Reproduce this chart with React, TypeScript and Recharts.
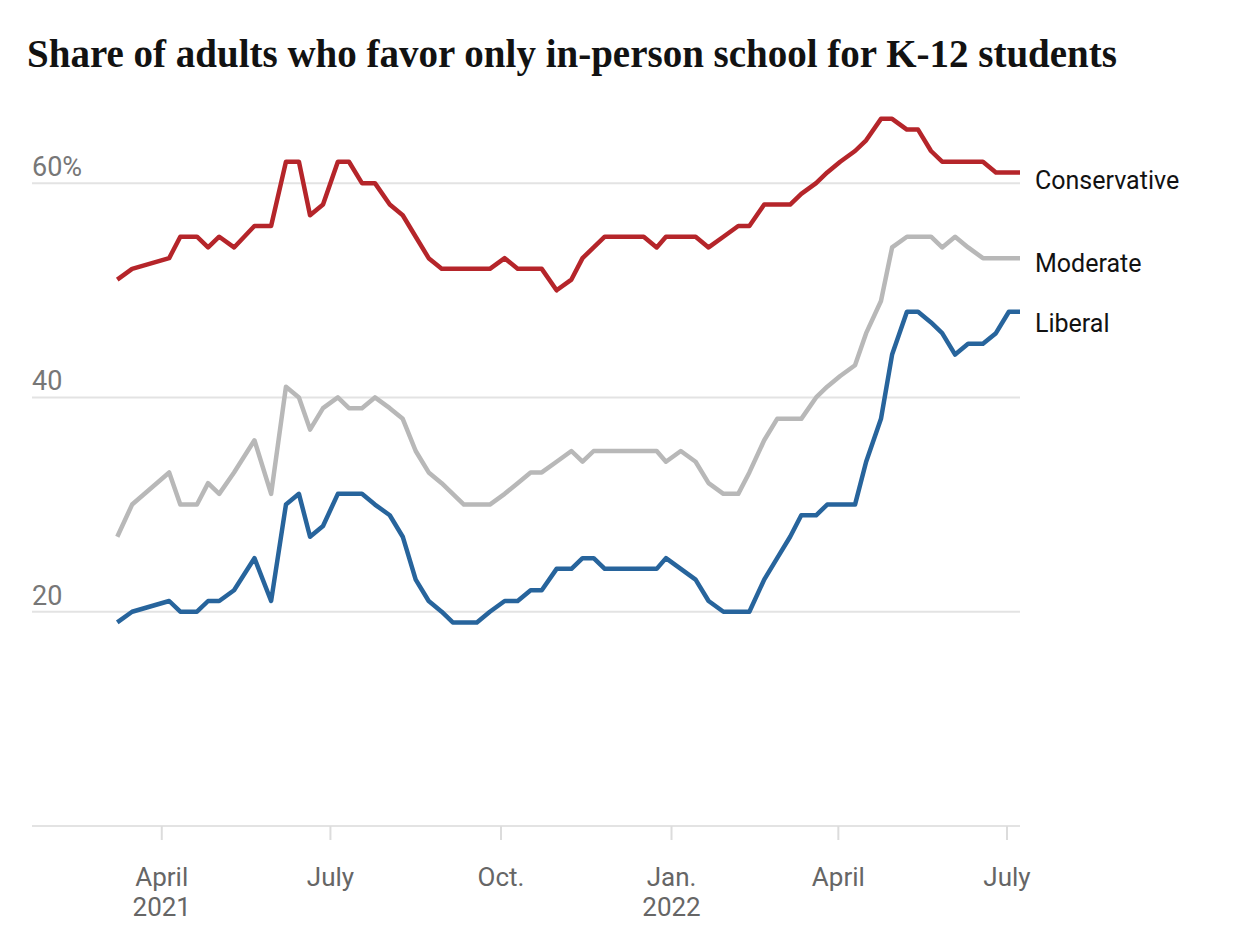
import React from "react";
import {
  LineChart, Line, XAxis, YAxis, ReferenceLine, LabelList,
} from "recharts";

// weekly-ish survey readings
const DATES = [
  "2021-03-08", "2021-03-16", "2021-04-05", "2021-04-11", "2021-04-20", "2021-04-26",
  "2021-05-02", "2021-05-10", "2021-05-21", "2021-05-30", "2021-06-07", "2021-06-14",
  "2021-06-20", "2021-06-27", "2021-07-05", "2021-07-11", "2021-07-18", "2021-07-25",
  "2021-08-02", "2021-08-09", "2021-08-16", "2021-08-23", "2021-08-30", "2021-09-05",
  "2021-09-11", "2021-09-18", "2021-09-25", "2021-10-03", "2021-10-10", "2021-10-17",
  "2021-10-23", "2021-10-31", "2021-11-08", "2021-11-14", "2021-11-20", "2021-11-26",
  "2021-12-03", "2021-12-10", "2021-12-17", "2021-12-24", "2021-12-29", "2022-01-06",
  "2022-01-14", "2022-01-21", "2022-01-29", "2022-02-06", "2022-02-12", "2022-02-20",
  "2022-02-27", "2022-03-06", "2022-03-12", "2022-03-20", "2022-03-26", "2022-04-02",
  "2022-04-10", "2022-04-16", "2022-04-24", "2022-04-30", "2022-05-08", "2022-05-14",
  "2022-05-21", "2022-05-27", "2022-06-03", "2022-06-10", "2022-06-18", "2022-06-25",
  "2022-07-02", "2022-07-08",
];

const CONSERVATIVE = [
  51, 52, 53, 55, 55, 54, 55, 54, 56, 56, 62, 62,
  57, 58, 62, 62, 60, 60, 58, 57, 55, 53, 52, 52,
  52, 52, 52, 53, 52, 52, 52, 50, 51, 53, 54, 55,
  55, 55, 55, 54, 55, 55, 55, 54, 55, 56, 56, 58,
  58, 58, 59, 60, 61, 62, 63, 64, 66, 66, 65, 65,
  63, 62, 62, 62, 62, 61, 61, 61,
];

const MODERATE = [
  27, 30, 33, 30, 30, 32, 31, 33, 36, 31, 41, 40,
  37, 39, 40, 39, 39, 40, 39, 38, 35, 33, 32, 31,
  30, 30, 30, 31, 32, 33, 33, 34, 35, 34, 35, 35,
  35, 35, 35, 35, 34, 35, 34, 32, 31, 31, 33, 36,
  38, 38, 38, 40, 41, 42, 43, 46, 49, 54, 55, 55,
  55, 54, 55, 54, 53, 53, 53, 53,
];

const LIBERAL = [
  19, 20, 21, 20, 20, 21, 21, 22, 25, 21, 30, 31,
  27, 28, 31, 31, 31, 30, 29, 27, 23, 21, 20, 19,
  19, 19, 20, 21, 21, 22, 22, 24, 24, 25, 25, 24,
  24, 24, 24, 24, 25, 24, 23, 21, 20, 20, 20, 23,
  25, 27, 29, 29, 30, 30, 30, 34, 38, 44, 48, 48,
  47, 46, 44, 45, 45, 46, 48, 48,
];

const X_DOMAIN_START = "2021-01-21";
const X_TICKS = ["2021-04-01", "2021-07-01", "2021-10-01", "2022-01-01", "2022-04-01", "2022-07-01"];
const X_TICK_LABELS = [["April", "2021"], ["July"], ["Oct."], ["Jan.", "2022"], ["April"], ["July"]];

const Y_TICKS = [0, 20, 40, 60];
const Y_TICK_LABELS = ["", "20", "40", "60%"];

const RED = "#b5252a";
const GRAY = "#b8b8b8";
const BLUE = "#27649c";
const SANS = "Roboto, 'Liberation Sans', sans-serif";

const ts = (d: string) => new Date(d + "T00:00:00Z").getTime();

const data = DATES.map((d, i) => ({
  date: ts(d),
  conservative: CONSERVATIVE[i],
  moderate: MODERATE[i],
  liberal: LIBERAL[i],
}));

const xTicks = X_TICKS.map(ts);

function XTick({ x, y, payload }: any) {
  const idx = xTicks.indexOf(payload.value);
  const lines = X_TICK_LABELS[idx] || [];
  return (
    <g>
      {lines.map((t, i) => (
        <text key={i} x={x} y={y + 46 + i * 30} textAnchor="middle"
          fill="#666" fontSize={26} fontFamily={SANS}>
          {t}
        </text>
      ))}
    </g>
  );
}

const gridLabel = (text: string) => (props: any) => {
  const vb = props.viewBox || {};
  if (!text) return null;
  return (
    <text x={vb.x} y={vb.y - 7} textAnchor="start" fill="#777" fontSize={27} fontFamily={SANS}>
      {text}
    </text>
  );
};

const endLabel = (name: string, dy: number) => (props: any) => {
  const { x, y, index } = props;
  if (index !== data.length - 1) return null;
  return (
    <text x={x + 15} y={y + dy} dominantBaseline="central" fill="#121212"
      fontSize={25} fontFamily={SANS}>
      {name}
    </text>
  );
};

export default function App() {
  return (
    <div style={{ position: "absolute", left: 0, top: 0, width: 1234, height: 950, background: "#fff" }}>
      <div
        style={{
          position: "absolute", left: 27, top: 34, lineHeight: 1,
          fontFamily: "'Liberation Serif', 'DejaVu Serif', serif",
          fontWeight: 700, fontSize: 39, color: "#121212", whiteSpace: "nowrap",
        }}
      >
        Share of adults who favor only in-person school for K-12 students
      </div>
      <div style={{ position: "absolute", left: 0, top: 0 }}>
        <LineChart width={1234} height={950} data={data}
          margin={{ top: 76, right: 214, bottom: 24, left: 32 }}>
          <XAxis
            dataKey="date" type="number" scale="linear"
            domain={[ts(X_DOMAIN_START), ts(DATES[DATES.length - 1])]}
            allowDataOverflow ticks={xTicks} interval={0}
            height={100} axisLine={false}
            tickLine={{ stroke: "#dcdcdc", strokeWidth: 2 }} tickSize={14} tickMargin={0}
            tick={<XTick />}
          />
          <YAxis type="number" domain={[0, 70]} hide />
          {Y_TICKS.map((v, i) => (
            <ReferenceLine key={v} y={v} stroke="#e3e3e3" strokeWidth={2}
              label={{ content: gridLabel(Y_TICK_LABELS[i]) }} />
          ))}
          <Line dataKey="moderate" stroke={GRAY} strokeWidth={4.5} dot={false} activeDot={false}
            strokeLinejoin="round" isAnimationActive={false}>
            <LabelList dataKey="moderate" content={endLabel("Moderate", 5)} />
          </Line>
          <Line dataKey="liberal" stroke={BLUE} strokeWidth={4.5} dot={false} activeDot={false}
            strokeLinejoin="round" isAnimationActive={false}>
            <LabelList dataKey="liberal" content={endLabel("Liberal", 12)} />
          </Line>
          <Line dataKey="conservative" stroke={RED} strokeWidth={4.5} dot={false} activeDot={false}
            strokeLinejoin="round" isAnimationActive={false}>
            <LabelList dataKey="conservative" content={endLabel("Conservative", 8)} />
          </Line>
        </LineChart>
      </div>
    </div>
  );
}
